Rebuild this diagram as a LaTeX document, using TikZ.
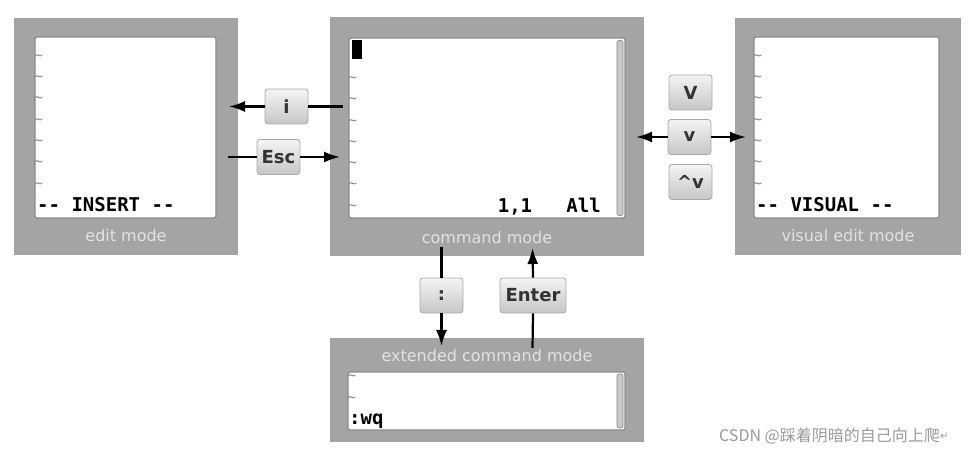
\documentclass[tikz,border=0pt]{standalone}
\usepackage{fontspec}
\setmainfont{DejaVu Sans}
\newfontfamily\monof{DejaVu Sans Mono}
\newfontfamily\cjk{Noto Sans CJK SC}
\usetikzlibrary{arrows.meta}
\definecolor{frame}{HTML}{A4A4A4}
\definecolor{edge}{HTML}{8A8A8A}
\definecolor{keyedge}{HTML}{A8A8A8}
\definecolor{keytop}{HTML}{F4F4F4}
\definecolor{keybot}{HTML}{C6C6C6}
\definecolor{keytext}{HTML}{333333}
\definecolor{labeltext}{HTML}{E2E2E2}
\definecolor{tildec}{HTML}{8C8C8C}
\definecolor{wm}{HTML}{9A9A9A}
\definecolor{scroll}{HTML}{C8C8C8}
\begin{document}
\begin{tikzpicture}[x=1pt,y=-1pt,
  outerbox/.style={fill=frame, draw=none, inner sep=0pt, outer sep=0pt},
  screen/.style={fill=white, draw=edge, line width=1.2pt, rounded corners=2pt, inner sep=0pt, outer sep=0pt},
  keybox/.style={draw=keyedge, line width=0.8pt, rounded corners=3pt, top color=keytop, bottom color=keybot, minimum height=35pt, minimum width=43pt, inner sep=0pt, font=\fontsize{18}{18}\selectfont\bfseries, text=keytext},
  modelabel/.style={text=labeltext, inner sep=0pt, font=\fontsize{16}{16}\selectfont},
  tilde/.style={text=tildec, font=\monof\fontsize{15}{15}\selectfont, anchor=west, inner sep=0pt},
  mono/.style={font=\monof\bfseries\fontsize{19}{19}\selectfont, inner sep=0pt},
  scrollbar/.style={fill=scroll, draw=edge, line width=0.6pt, rounded corners=2pt, minimum width=6pt, inner sep=0pt},
  arr/.style={line width=2.2pt, -{Latex[length=16pt,width=11pt]}},
  plain/.style={line width=2.2pt}]
\useasboundingbox[fill=white] (0,0) rectangle (980,454);

% ---- edit mode
\node[outerbox, minimum width=224pt, minimum height=237pt] (edit) at (126,136.5) {};
\node[screen, minimum width=181pt, minimum height=181pt] (editscr) at (125.5,127.5) {};
\node[modelabel] (editlbl) at (126,236) {edit mode};
\foreach \yy [count=\k] in {58,79,100,122,143,164,186}
  \node[tilde] (et\k) at (34,\yy) {\char`\~};
\node[mono, anchor=west] (insert) at (37,205) {-- INSERT --};

% ---- command mode
\node[outerbox, minimum width=314pt, minimum height=239pt] (cmd) at (487,136.5) {};
\node[screen, minimum width=276pt, minimum height=180pt] (cmdscr) at (487,128) {};
\node[modelabel] (cmdlbl) at (487,238) {command mode};
\node[scrollbar, minimum height=175pt] (cmdbar) at (620,128) {};
\node[fill=black, minimum width=10pt, minimum height=19pt, inner sep=0pt] (cursor) at (356.5,49.5) {};
\foreach \yy [count=\k] in {80,101,123,144,165,186,208}
  \node[tilde] (ct\k) at (348,\yy) {\char`\~};
\node[mono, anchor=east] (pos) at (601,207) {1,1\ \ \ All};

% ---- visual edit mode
\node[outerbox, minimum width=226pt, minimum height=237pt] (vis) at (848,136.5) {};
\node[screen, minimum width=185pt, minimum height=181pt] (visscr) at (846.5,127.5) {};
\node[modelabel] (vislbl) at (848,236) {visual edit mode};
\foreach \yy [count=\k] in {58,79,100,122,143,164,186}
  \node[tilde] (vt\k) at (753,\yy) {\char`\~};
\node[mono, anchor=west] (visual) at (756,205) {-- VISUAL --};

% ---- extended command mode
\node[outerbox, minimum width=314pt, minimum height=104pt] (ext) at (487,390) {};
\node[screen, minimum width=277pt, minimum height=58pt] (extscr) at (486.5,401) {};
\node[modelabel] (extlbl) at (487,356) {extended command mode};
\node[scrollbar, minimum height=54pt] (extbar) at (620,401) {};
\node[tilde] (xt1) at (347,378) {\char`\~};
\node[tilde] (xt2) at (347,400) {\char`\~};
\node[mono, anchor=west] (wq) at (349,421) {:wq};

% ---- keys
\node[keybox] (ikey) at (286.5,106.5) {i};
\node[keybox] (esckey) at (278.5,157) {Esc};
\node[keybox] (Vkey) at (690.5,92.5) {V};
\node[keybox] (vkey) at (689.5,137) {v};
\node[keybox] (cvkey) at (690.5,182) {\textasciicircum v};
\node[keybox] (colkey) at (441.5,295.5) {:};
\node[keybox, minimum width=66pt] (enterkey) at (533,295.5) {Enter};

% ---- connector end points
\coordinate (iS) at (343,106.5);
\coordinate (iT) at (229,106.5);
\coordinate (eS) at (228,157);
\coordinate (eT) at (340,157);
\coordinate (vL) at (636,137);
\coordinate (vR) at (746,137);
\coordinate (cS) at (441.5,247);
\coordinate (cT) at (441.5,346);
\coordinate (nS) at (532.5,348);
\coordinate (nT) at (532.5,248);

% ---- connectors
\draw[plain] (iS) -- (ikey.east);
\draw[arr] (ikey.west) -- (iT);
\draw[plain] (eS) -- (esckey.west);
\draw[arr] (esckey.east) -- (eT);
\draw[arr] (vkey.west) -- (vL);
\draw[arr] (vkey.east) -- (vR);
\draw[plain] (cS) -- (colkey.north);
\draw[arr] (colkey.south) -- (cT);
\draw[plain] (nS) -- (enterkey.south);
\draw[arr] (enterkey.north) -- (nT);

% ---- watermark
\node[anchor=west, inner sep=0pt, text=wm, font=\cjk\fontsize{16}{16}\selectfont] (wmark) at (719,436) {CSDN @踩着阴暗的自己向上爬};
\node[anchor=west, inner sep=0pt, text=wm, font=\fontsize{10}{10}\selectfont] (ret) at (wmark.east) {↵};
\end{tikzpicture}
\end{document}
